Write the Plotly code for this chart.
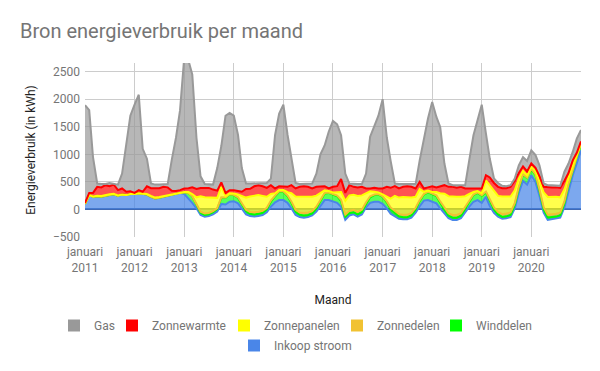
import pandas as pd
import plotly.graph_objects as go

# Months: January 2011 .. January 2021
maanden = pd.date_range("2011-01-01", periods=121, freq="MS")

# Series values (kWh per month), bottom of the stack first
inkoop_stroom = [
    100, 260, 230, 240, 230, 250, 260, 275, 250, 270, 260, 280,
    280, 295, 280, 270, 230, 200, 210, 230, 240, 270, 280, 300,
    280, 200, 120, 20, -100, -130, -120, -90, -40, 100, 90, 140,
    150, 110, 20, -90, -120, -130, -120, -100, -50, 50, 130, 170,
    170, 120, 20, -100, -140, -150, -140, -110, -40, 60, 170, 170,
    140, 120, 50, -190, -110, -90, -130, -90, 40, 120, 140, 140,
    100, 20, -80, -120, -170, -180, -180, -150, -60, 60, 160, 170,
    140, 110, 20, -70, -160, -190, -190, -160, -50, 50, 140, 170,
    120, 230, 60, -60, -130, -170, -160, -140, 20, 300, 520, 450,
    620, 500, 250, -60, -190, -180, -170, -150, 40, 350, 620, 840,
    1070,
]
winddelen = [
    0, 0, 0, 0, 0, 0, 0, 0, 0, 0, 0, 0,
    0, 0, 0, 0, 0, 0, 0, 0, 0, 0, 0, 0,
    30, 100, 120, 80, 40, 30, 30, 40, 50, 110, 120, 130,
    110, 100, 80, 60, 40, 40, 40, 40, 50, 90, 110, 150,
    150, 120, 100, 60, 45, 40, 40, 40, 60, 100, 120, 130,
    130, 120, 100, 60, 45, 40, 40, 45, 60, 100, 120, 130,
    130, 110, 90, 60, 45, 40, 40, 45, 60, 90, 110, 140,
    140, 130, 100, 70, 45, 40, 40, 45, 60, 100, 120, 130,
    130, 80, 90, 60, 40, 35, 35, 40, 60, 90, 110, 120,
    110, 120, 90, 60, 45, 40, 40, 45, 70, 90, 100, 110,
    110,
]
zonnedelen = [
    0, 0, 0, 0, 0, 0, 0, 0, 0, 0, 0, 0,
    0, 0, 0, 0, 0, 0, 0, 0, 0, 0, 0, 0,
    0, 0, 0, 0, 20, 25, 25, 20, 15, 10, 5, 5,
    5, 10, 15, 25, 35, 40, 40, 35, 30, 20, 10, 8,
    8, 12, 25, 35, 40, 45, 45, 40, 30, 20, 10, 8,
    8, 12, 25, 35, 40, 45, 45, 40, 30, 20, 10, 8,
    8, 15, 25, 35, 40, 45, 45, 40, 30, 20, 10, 8,
    8, 15, 25, 35, 45, 50, 50, 45, 30, 20, 10, 8,
    8, 15, 25, 35, 45, 50, 50, 45, 35, 20, 10, 8,
    8, 15, 25, 40, 50, 50, 50, 45, 35, 20, 10, 8,
    8,
]
zonnepanelen = [
    0, 0, 5, 10, 15, 15, 15, 10, 5, 0, 0, 0,
    0, 0, 5, 10, 15, 15, 15, 10, 5, 0, 0, 0,
    5, 15, 40, 120, 280, 295, 285, 240, 185, 190, 25, 20,
    25, 50, 130, 220, 280, 300, 300, 270, 200, 120, 45, 25,
    25, 60, 150, 240, 290, 300, 290, 260, 200, 110, 45, 25,
    30, 60, 140, 250, 280, 270, 290, 260, 170, 90, 50, 30,
    35, 80, 160, 270, 300, 320, 310, 280, 200, 200, 40, 25,
    30, 60, 150, 250, 310, 330, 330, 300, 200, 110, 45, 25,
    35, 200, 260, 290, 290, 320, 310, 290, 230, 150, 60, 40,
    35, 60, 150, 270, 320, 320, 310, 280, 220, 120, 50, 30,
    25,
]
zonnewarmte = [
    15, 40, 65, 160, 155, 175, 145, 165, 95, 110, 60, 50,
    20, 55, 35, 140, 140, 165, 160, 170, 155, 70, 55, 50,
    65, 70, 120, 150, 150, 170, 170, 150, 130, 80, 60, 55,
    60, 65, 75, 155, 140, 170, 180, 175, 160, 160, 85, 67,
    67, 98, 145, 145, 175, 185, 175, 150, 160, 120, 77, 47,
    102, 110, 235, 145, 185, 145, 155, 155, 80, 50, 72, 72,
    107, 185, 197, 177, 165, 185, 207, 195, 150, 130, 60, 57,
    104, 85, 127, 155, 170, 180, 162, 180, 140, 100, 65, 47,
    87, 95, 145, 155, 165, 150, 150, 175, 175, 100, 80, 70,
    60, 60, 90, 100, 175, 170, 170, 170, 155, 80, 110, 40,
    20,
]
gas = [
    1775, 1500, 650, 60, 60, 20, 60, 20, 100, 270, 830, 1370,
    1600, 1730, 780, 500, 85, 70, 65, 40, 60, 560, 965, 1450,
    2380, 2315, 2050, 930, 210, 70, 60, 90, 410, 660, 1400, 1400,
    1350, 1015, 430, 100, 95, 50, 30, 50, 90, 120, 970, 1320,
    1480, 940, 510, 100, 50, 40, 50, 90, 240, 590, 738, 1030,
    1195, 1123, 795, 350, 30, 50, 60, 50, 270, 940, 1108, 1320,
    1620, 890, 488, 48, 80, 50, 38, 50, 80, 390, 905, 1250,
    1528, 1278, 1075, 392, 60, 30, 48, 30, 60, 513, 965, 1238,
    1520, 756, 343, 81, 70, 45, 35, 30, 40, 140, 170, 192,
    240, 230, 195, 60, 40, 40, 40, 40, 164, 172, 153, 257,
    207,
]

# (name, values, line colour, fill colour) — stacking order, bottom first
series = [
    ("Inkoop stroom", inkoop_stroom, "#4a86e8", "rgba(74,134,232,0.72)"),
    ("Winddelen", winddelen, "#00ff00", "rgba(0,255,0,0.65)"),
    ("Zonnedelen", zonnedelen, "#f1c232", "rgba(241,194,50,0.7)"),
    ("Zonnepanelen", zonnepanelen, "#ffff00", "rgba(255,255,0,0.7)"),
    ("Zonnewarmte", zonnewarmte, "#ff0000", "rgba(255,0,0,0.68)"),
    ("Gas", gas, "#999999", "rgba(153,153,153,0.7)"),
]
legend_order = ["Gas", "Zonnewarmte", "Zonnepanelen", "Zonnedelen", "Winddelen", "Inkoop stroom"]

tick_years = list(range(2011, 2022))
tick_vals = [f"{y}-01-01" for y in tick_years]
tick_text = [f"januari<br>{y}" for y in tick_years[:-1]] + [""]

fig = go.Figure()
for name, vals, line_col, fill_col in series:
    fig.add_trace(go.Scatter(
        x=maanden, y=vals, name=name, mode="lines",
        stackgroup="energie", line=dict(color=line_col, width=2),
        fillcolor=fill_col, showlegend=False,
    ))

# legend: one small legend per entry, arranged like the original (5 + 1 rows)
W, H = 600, 371
legend_pos = {  # (swatch centre x, row top y) in pixels
    "Gas": (78, 311), "Zonnewarmte": (136, 311), "Zonnepanelen": (248, 311),
    "Zonnedelen": (361, 311), "Winddelen": (460, 311), "Inkoop stroom": (258, 331),
}
colour_of = {s[0]: s[2] for s in series}
legend_layouts = {}
for k, name in enumerate(legend_order):
    key = "legend" if k == 0 else f"legend{k + 1}"
    fig.add_trace(go.Scatter(
        x=[None], y=[None], mode="markers", name=name,
        marker=dict(symbol="square", size=12, color=colour_of[name]),
        legend=key, hoverinfo="skip",
    ))
    cx, top = legend_pos[name]
    legend_layouts[key] = dict(
        orientation="h", xref="container", yref="container",
        x=(cx - 24) / W, xanchor="left", y=1 - top / H, yanchor="top",
        font=dict(size=12, color="#757575"), itemclick=False,
        itemdoubleclick=False, bgcolor="rgba(0,0,0,0)", borderwidth=0,
    )

fig.update_layout(
    width=W, height=H,
    margin=dict(l=85, r=19, t=63, b=134, autoexpand=False),
    paper_bgcolor="white", plot_bgcolor="white",
    font=dict(family="Roboto", size=12, color="#757575"),
    title=dict(text="Bron energieverbruik per maand", x=20/W, xref="container",
               xanchor="left", y=1-31/H, yanchor="middle",
               font=dict(family="Roboto", size=20, color="#757575")),
    showlegend=True,
    xaxis=dict(type="date", range=["2011-01-01", "2021-01-01"], automargin=False,
               tickvals=tick_vals, ticktext=tick_text, showgrid=True,
               gridcolor="#cccccc", gridwidth=1, zeroline=False, showline=False,
               ticks="", ticklabelstandoff=6,
               tickfont=dict(size=12, color="#757575"),
               title=dict(text="Maand", standoff=22, font=dict(size=12, color="#222222"))),
    yaxis=dict(range=[-500, 2656], tickvals=[-500, 0, 500, 1000, 1500, 2000, 2500],
               automargin=False,
               showgrid=True, gridcolor="#cccccc", gridwidth=1,
               zeroline=True, zerolinecolor="#3c5a96", zerolinewidth=1.5,
               ticks="", ticklabelstandoff=4,
               tickfont=dict(size=12, color="#757575"),
               title=dict(text="Energieverbruik (in kWh)", standoff=14,
                          font=dict(size=12, color="#222222"))),
)
fig.update_layout(**legend_layouts)

fig.write_html("out.html", config={"displayModeBar": False},
               post_script="document.body.style.margin='0px';")
